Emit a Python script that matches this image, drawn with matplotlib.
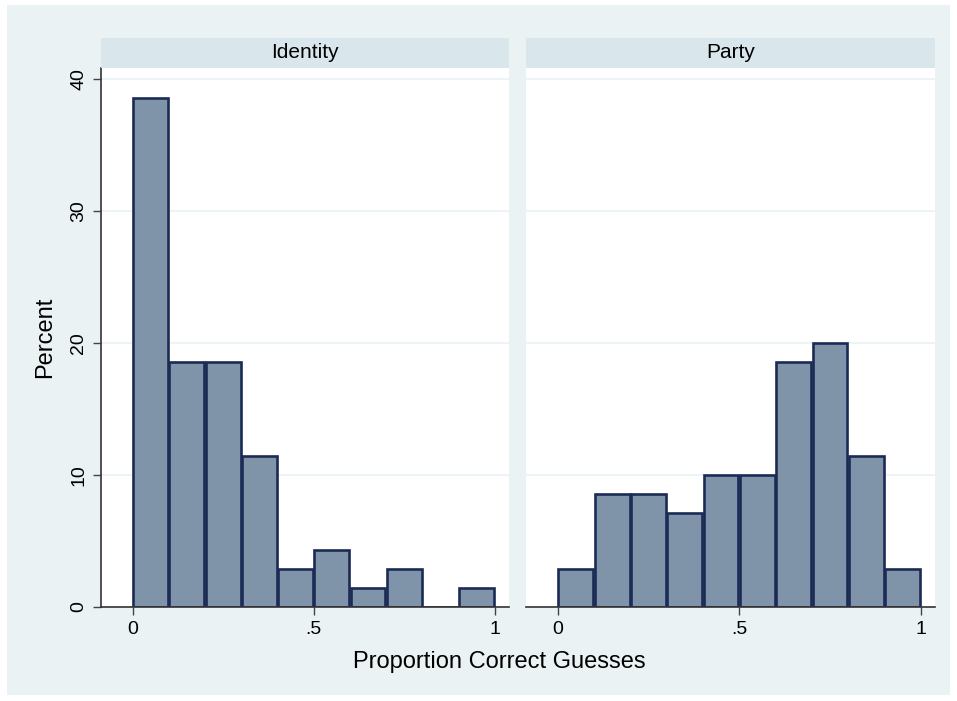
import numpy as np
import matplotlib.pyplot as plt
from matplotlib.patches import Rectangle

plt.rcParams['font.family'] = ['Liberation Sans', 'DejaVu Sans']

# histogram bins (width .1 from 0 to 1) and percent per bin
bin_edges = [0.0, 0.1, 0.2, 0.3, 0.4, 0.5, 0.6, 0.7, 0.8, 0.9, 1.0]
identity_pct = [38.57, 18.57, 18.57, 11.43, 2.86, 4.29, 1.43, 2.86, 0.0, 1.43]
party_pct = [2.86, 8.57, 8.57, 7.14, 10.0, 10.0, 18.57, 20.0, 11.43, 2.86]
panel_titles = ['Identity', 'Party']
y_ticks = [0, 10, 20, 30, 40]
x_ticks = [0, 0.5, 1]
x_ticklabels = ['0', '.5', '1']

outer_bg = '#EAF2F3'
strip_bg = '#D9E6EB'
bar_fill = '#7F93A9'
bar_edge = '#1C2B55'
grid_col = '#EAF2F3'

W, H = 957, 701
fig = plt.figure(figsize=(W / 100, H / 100), dpi=100, facecolor='white')

# light graph region behind everything
fig.patches.append(Rectangle((7 / W, 1 - 695 / H), 943 / W, 690 / H,
                             transform=fig.transFigure, facecolor=outer_bg,
                             edgecolor='none', zorder=-5))

def px_axes(x0, y0, x1, y1):
    return [x0 / W, 1 - y1 / H, (x1 - x0) / W, (y1 - y0) / H]

panels = [(101, 509, identity_pct), (526, 935, party_pct)]
edges = np.array(bin_edges)
widths = np.diff(edges)
centers = edges[:-1] + widths / 2
gap = 0.004  # each bar keeps its own outline

for i, (x0, x1, pct) in enumerate(panels):
    ax = fig.add_axes(px_axes(x0, 68, x1, 607))
    ax.set_facecolor('white')
    ax.bar(centers, pct, width=widths - gap, align='center', color=bar_fill,
           edgecolor=bar_edge, linewidth=1.9, zorder=3)
    ax.set_xlim(-0.087, 1.039)
    ax.set_ylim(0, 40.83)
    ax.set_yticks(y_ticks)
    ax.yaxis.grid(True, color=grid_col, linewidth=1.2, zorder=0)
    ax.set_xticks(x_ticks)
    ax.set_xticklabels(x_ticklabels)
    ax.tick_params(axis='x', length=6, width=1, color='#444444',
                   labelsize=14, pad=4)
    for s in ['top', 'right']:
        ax.spines[s].set_visible(False)
    ax.spines['bottom'].set_color('#333333')
    ax.spines['bottom'].set_linewidth(1.2)
    ax.spines['bottom'].set_zorder(4)
    if i == 0:
        ax.spines['left'].set_color('#333333')
        ax.spines['left'].set_linewidth(1.2)
        ax.tick_params(axis='y', length=6, width=1, color='#444444',
                       labelsize=14, pad=4)
        for lab in ax.get_yticklabels():
            lab.set_rotation(90)
            lab.set_va('center')
        ax.set_ylabel('Percent', fontsize=17, labelpad=10)
    else:
        ax.spines['left'].set_visible(False)
        ax.tick_params(axis='y', left=False, labelleft=False)

    # panel strip on top
    sax = fig.add_axes(px_axes(x0, 38, x1, 68))
    sax.set_facecolor(strip_bg)
    sax.set_xticks([])
    sax.set_yticks([])
    for s in sax.spines.values():
        s.set_visible(False)
    sax.text(0.5, 0.5, panel_titles[i], ha='center', va='center',
             fontsize=15, transform=sax.transAxes)

fig.text(499 / W, 1 - 662 / H, 'Proportion Correct Guesses',
         ha='center', va='center', fontsize=17)

fig.savefig('out.png', dpi=100, facecolor=fig.get_facecolor())
